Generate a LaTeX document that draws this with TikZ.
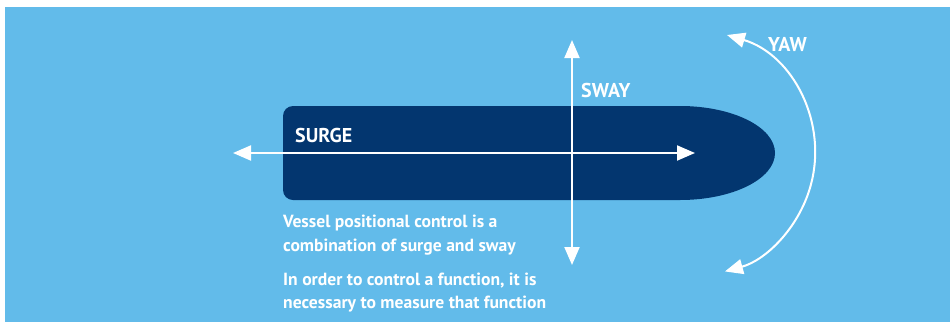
\documentclass[tikz,border=0pt]{standalone}
\usepackage{fontspec}
\setmainfont{PT Sans}
\usetikzlibrary{arrows.meta}
\definecolor{sea}{HTML}{62BBEA}
\definecolor{hull}{HTML}{03366F}
\tikzset{
  wline/.style={draw=white, line width=2pt},
  twoway/.style={wline, {Triangle[length=18pt,width=15pt]}-{Triangle[length=18pt,width=15pt]}},
  lbl/.style={text=white, font=\bfseries\fontsize{20}{24}\selectfont, inner sep=0pt, anchor=base west},
  note/.style={text=white, font=\bfseries\fontsize{17.6}{24}\selectfont, inner sep=0pt, anchor=base west}
}
\begin{document}
\begin{tikzpicture}[x=1pt,y=-1pt]
\useasboundingbox (0,0) rectangle (950,322);
\fill[white] (0,0) rectangle (950,322);
\fill[sea] (5,7) rectangle (950,322);
% hull
\fill[hull] (680,106) -- (293,106) arc[start angle=-90, end angle=-180, radius=10]
  -- (283,190) arc[start angle=180, end angle=90, radius=10]
  -- (680,200) arc[start angle=90, end angle=-90, x radius=95, y radius=47] -- cycle;
% coordinates
\coordinate (surgeL) at (233,153);
\coordinate (surgeR) at (695,153);
\coordinate (swayT) at (572,40);
\coordinate (swayB) at (572,265);
\coordinate (yawT) at (727,35);
% arrows
\draw[twoway] (surgeL) -- (surgeR);
\draw[twoway] (swayT) -- (swayB);
\draw[twoway] (yawT) arc[start angle=-73.5, end angle=74.5, radius=123] coordinate (yawB);
% labels
\node[lbl] (surge) at (295,142) {SURGE};
\node[lbl] (sway) at (581,97) {SWAY};
\node[lbl] (yaw) at (768,51) {YAW};
\node[note] (n1) at (283,227) {Vessel positional control is a};
\node[note] (n2) at (283,251) {combination of surge and sway};
\node[note] (n3) at (283,285) {In order to control a function, it is};
\node[note] (n4) at (283,308) {necessary to measure that function};
\end{tikzpicture}
\end{document}
